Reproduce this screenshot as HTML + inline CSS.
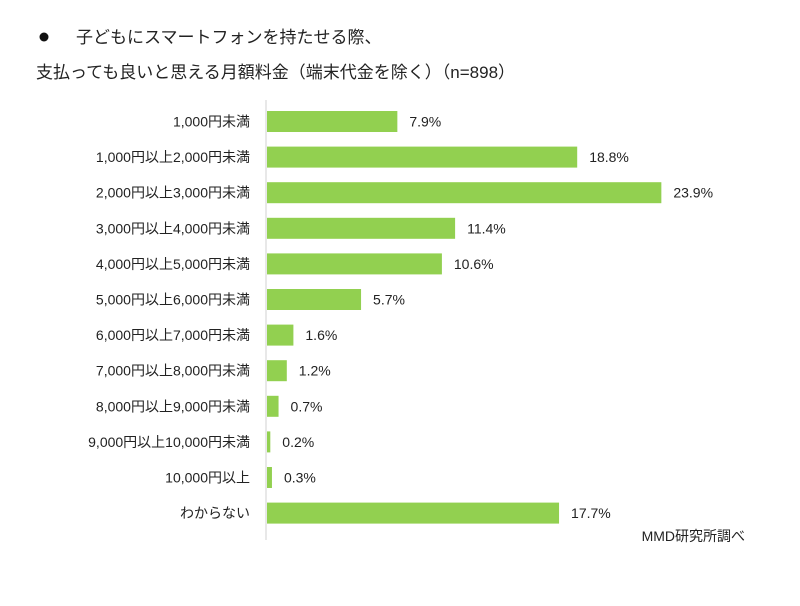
<!DOCTYPE html>
<html><head><meta charset="utf-8"><style>
body{margin:0;background:#fff;}
svg text{font-family:"Liberation Sans","Noto Sans CJK JP",sans-serif;fill:#222;}
</style></head><body>
<svg width="800" height="601" viewBox="0 0 800 601" xmlns="http://www.w3.org/2000/svg">
<circle cx="44" cy="37" r="4.5" fill="#111"/>
<text x="76" y="43" font-size="17">子どもにスマートフォンを持たせる際、</text>
<text x="36" y="78" font-size="17">支払っても良いと思える月額料金（端末代金を除く）（n=898）</text>
<line x1="266" y1="100" x2="266" y2="540" stroke="#d0d0d0" stroke-width="1"/>
<g fill="#92d050">
<rect x="267" y="111" width="130.35" height="21"/>
<rect x="267" y="146.6" width="310.2" height="21"/>
<rect x="267" y="182.2" width="394.35" height="21"/>
<rect x="267" y="217.8" width="188.1" height="21"/>
<rect x="267" y="253.4" width="174.9" height="21"/>
<rect x="267" y="289" width="94.05" height="21"/>
<rect x="267" y="324.6" width="26.4" height="21"/>
<rect x="267" y="360.2" width="19.8" height="21"/>
<rect x="267" y="395.8" width="11.55" height="21"/>
<rect x="267" y="431.4" width="3.3" height="21"/>
<rect x="267" y="467" width="4.95" height="21"/>
<rect x="267" y="502.6" width="292.05" height="21"/>
</g>
<g font-size="14" text-anchor="end">
<text x="250" y="126.5">1,000円未満</text>
<text x="250" y="162.1">1,000円以上2,000円未満</text>
<text x="250" y="197.7">2,000円以上3,000円未満</text>
<text x="250" y="233.3">3,000円以上4,000円未満</text>
<text x="250" y="268.9">4,000円以上5,000円未満</text>
<text x="250" y="304.5">5,000円以上6,000円未満</text>
<text x="250" y="340.1">6,000円以上7,000円未満</text>
<text x="250" y="375.7">7,000円以上8,000円未満</text>
<text x="250" y="411.3">8,000円以上9,000円未満</text>
<text x="250" y="446.9">9,000円以上10,000円未満</text>
<text x="250" y="482.5">10,000円以上</text>
<text x="250" y="518.1">わからない</text>
</g>
<g font-size="14">
<text x="409.35" y="126.5">7.9%</text>
<text x="589.2" y="162.1">18.8%</text>
<text x="673.35" y="197.7">23.9%</text>
<text x="467.1" y="233.3">11.4%</text>
<text x="453.9" y="268.9">10.6%</text>
<text x="373.05" y="304.5">5.7%</text>
<text x="305.4" y="340.1">1.6%</text>
<text x="298.8" y="375.7">1.2%</text>
<text x="290.55" y="411.3">0.7%</text>
<text x="282.3" y="446.9">0.2%</text>
<text x="283.95" y="482.5">0.3%</text>
<text x="571.05" y="518.1">17.7%</text>
</g>
<text x="745" y="541" font-size="14" text-anchor="end">MMD研究所調べ</text>
</svg>
</body></html>
